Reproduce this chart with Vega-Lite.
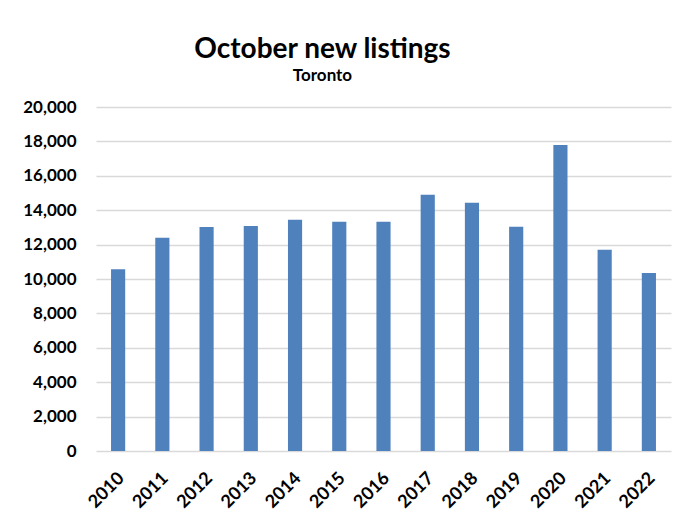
{
  "$schema": "https://vega.github.io/schema/vega-lite/v6.json",
  "width": 575,
  "height": 344,
  "autosize": {"type": "none"},
  "padding": {"left": 96, "top": 107, "right": 13, "bottom": 72},
  "background": "white",
  "title": {
    "text": "October new listings",
    "subtitle": "Toronto",
    "anchor": "middle",
    "dx": -61,
    "font": "Lato",
    "fontSize": 28,
    "fontWeight": "bold",
    "color": "black",
    "subtitleFont": "Lato",
    "subtitleFontSize": 17,
    "subtitleFontWeight": "bold",
    "subtitleColor": "black",
    "subtitlePadding": 4,
    "offset": 14
  },
  "data": {
    "values": [
      {"year": "2010", "listings": 10560},
      {"year": "2011", "listings": 12400},
      {"year": "2012", "listings": 13020},
      {"year": "2013", "listings": 13080},
      {"year": "2014", "listings": 13450},
      {"year": "2015", "listings": 13330},
      {"year": "2016", "listings": 13330},
      {"year": "2017", "listings": 14900},
      {"year": "2018", "listings": 14440},
      {"year": "2019", "listings": 13040},
      {"year": "2020", "listings": 17790},
      {"year": "2021", "listings": 11700},
      {"year": "2022", "listings": 10350}
    ]
  },
  "mark": {"type": "bar", "color": "#4f81bd"},
  "encoding": {
    "x": {
      "field": "year",
      "type": "ordinal",
      "title": null,
      "scale": {"paddingInner": 0.68, "paddingOuter": 0.34},
      "axis": {
        "labelAngle": -45,
        "labelFont": "Lato",
        "labelFontSize": 18,
        "labelFontWeight": "bold",
        "labelColor": "black",
        "domain": false,
        "ticks": false,
        "labelPadding": 18,
        "labelOffset": -3
      }
    },
    "y": {
      "field": "listings",
      "type": "quantitative",
      "title": null,
      "scale": {"domain": [0, 20000]},
      "axis": {
        "values": [0, 2000, 4000, 6000, 8000, 10000, 12000, 14000, 16000, 18000, 20000],
        "format": ",.0f",
        "labelFont": "Lato",
        "labelFontSize": 17,
        "labelFontWeight": "bold",
        "labelColor": "black",
        "domain": false,
        "ticks": false,
        "labelPadding": 20,
        "grid": true,
        "gridColor": "#d9d9d9",
        "gridWidth": 1.5
      }
    }
  },
  "config": {"view": {"stroke": null}}
}
